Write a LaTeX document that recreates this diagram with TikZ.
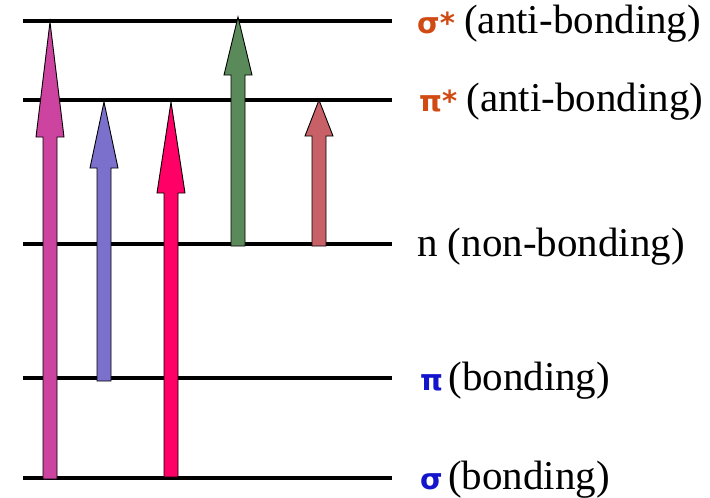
\documentclass[tikz,border=0pt]{standalone}
\usepackage{fontspec}
\setmainfont{Liberation Serif}
\newfontfamily\grkfont{DejaVu Sans}
\definecolor{cMag}{HTML}{CC44A0}
\definecolor{cBlue}{HTML}{7B70CC}
\definecolor{cRed}{HTML}{FF0066}
\definecolor{cGreen}{HTML}{5A8A5A}
\definecolor{cRose}{HTML}{C86068}
\definecolor{cOrange}{HTML}{D04A14}
\definecolor{cPi}{HTML}{1414CC}
\newcommand\grk[2]{\textcolor{#1}{{\grkfont\bfseries\fontsize{29}{32}\selectfont #2}}}
\newcommand\fatarrow[5]{%
  \filldraw[arrowbody, fill=#1] (#2-7,#3) -- (#2-7,#5) -- (#2-14,#5) -- (#2,#4)
    -- (#2+14,#5) -- (#2+7,#5) -- (#2+7,#3) -- cycle;}
\begin{document}
\begin{tikzpicture}[x=1pt,y=-1pt,
  level/.style={line width=4pt, black},
  arrowbody/.style={draw=black, line width=0.9pt, line join=miter},
  lbl/.style={anchor=base west, inner sep=0pt, font=\fontsize{41}{45}\selectfont}]
\useasboundingbox (0,0) rectangle (710,498);
% level lines
\coordinate (sSL) at (23,21);  \coordinate (sSR) at (392,21);
\coordinate (pSL) at (23,100); \coordinate (pSR) at (392,100);
\coordinate (nL)  at (23,244); \coordinate (nR)  at (392,244);
\coordinate (pL)  at (23,378); \coordinate (pR)  at (392,378);
\coordinate (sL)  at (23,478); \coordinate (sR)  at (392,478);
\draw[level] (sSL) -- (sSR);
\draw[level] (pSL) -- (pSR);
\draw[level] (nL) -- (nR);
\draw[level] (pL) -- (pR);
\draw[level] (sL) -- (sR);
% arrows: colour, x, bottom y, tip y, head base y
\fatarrow{cMag}{50}{479}{22}{137}
\fatarrow{cBlue}{104}{381}{102}{168}
\fatarrow{cRed}{171}{477}{102}{193}
\fatarrow{cGreen}{238}{246}{17}{75}
\fatarrow{cRose}{319}{246}{100}{136}
% labels
\node[lbl] (lsS) at (417,33) {\grk{cOrange}{σ*}\hspace{-1pt} (anti-bonding)};
\node[lbl] (lpS) at (419,111) {\grk{cOrange}{π*}\hspace{-1pt} (anti-bonding)};
\node[lbl] (ln)  at (417,256) {n (non-bonding)};
\node[lbl] (lp)  at (420,390) {\grk{cPi}{π}\hspace{-5pt} (bonding)};
\node[lbl] (ls)  at (420,489) {\grk{cPi}{σ}\hspace{-5pt} (bonding)};
\end{tikzpicture}
\end{document}
